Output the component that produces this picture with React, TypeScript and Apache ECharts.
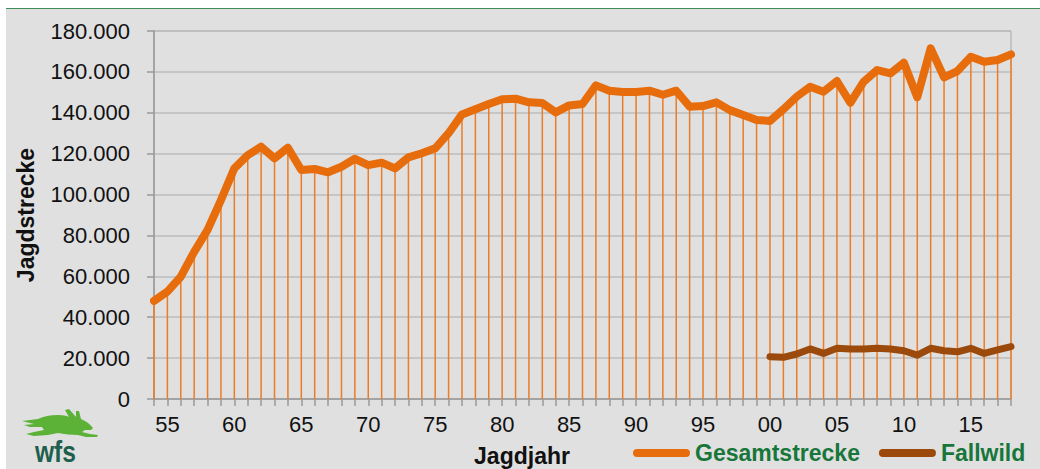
import React, { useEffect, useRef } from 'react';
import * as echarts from 'echarts';

const years = [
  '54', '55', '56', '57', '58', '59', '60', '61', '62', '63', '64', '65', '66', '67', '68', '69',
  '70', '71', '72', '73', '74', '75', '76', '77', '78', '79', '80', '81', '82', '83', '84', '85',
  '86', '87', '88', '89', '90', '91', '92', '93', '94', '95', '96', '97', '98', '99', '00', '01',
  '02', '03', '04', '05', '06', '07', '08', '09', '10', '11', '12', '13', '14', '15', '16', '17', '18',
];

const gesamtstrecke = [
  48000, 52500, 59800, 72000, 82700, 97300, 112800, 119300, 123400, 117700, 122900, 112000,
  112500, 110900, 113600, 117500, 114400, 115600, 112800, 118200, 120200, 122600, 130000,
  139200, 141700, 144300, 146600, 146900, 145100, 144800, 140200, 143600, 144300, 153400,
  150800, 150200, 150200, 150800, 148800, 150800, 143000, 143300, 145100, 141300, 138900,
  136500, 136000, 141700, 147900, 152700, 150300, 155500, 144900, 155200, 160900, 159300,
  164500, 147600, 171500, 157300, 160400, 167400, 165000, 165800, 168600,
];

const fallwildFirstYear = '00';
const fallwild = [
  20700, 20400, 22000, 24500, 22300, 24800, 24500, 24500, 24800, 24500, 23600, 21500, 24800,
  23600, 23100, 24800, 22300, 24000, 25600,
];

const yTicks = { min: 0, max: 180000, interval: 20000 };

const FONT = '"Liberation Sans", Arial, sans-serif';
const ORANGE = '#e66c0c';
const BROWN = '#9b4a0b';
const DROP = '#ec7c26';

const harePath =
  'M22,421 L38,419 C46,415 58,414 67,416 L69,417 L65,410 L69,409 L76,417 L76,411 L79,411 L81,419 ' +
  'C86,421 90,424 93,428 L91,430 L85,430 L82,432 L90,434 L98,435 L97,437 L86,437 L78,435 ' +
  'C72,435 64,434 58,433 L48,435 L34,436 L26,434 L34,432 L44,430 L42,427 L30,427 L24,425 L34,424 Z';

let registered = false;

export default function App() {
  const ref = useRef<HTMLDivElement>(null);

  useEffect(() => {
    if (!ref.current) return;
    if (!registered) {
      echarts.graphic.registerShape('hare', echarts.graphic.extendPath(harePath, {}) as any);
      registered = true;
    }
    const chart = echarts.init(ref.current, undefined, { renderer: 'svg' });
    const start = years.indexOf(fallwildFirstYear);
    const fallData = years.map((_, i) => (i >= start && i - start < fallwild.length ? fallwild[i - start] : null));
    const legendIcon = 'path://M4,0 L53,0 A4,4 0 0 1 53,8 L4,8 A4,4 0 0 1 4,0 Z';

    chart.setOption({
      animation: false,
      backgroundColor: 'transparent',
      textStyle: { fontFamily: FONT },
      grid: {
        left: 154,
        right: 29,
        top: 31,
        bottom: 70,
        show: true,
        borderColor: '#a8a8a8',
        borderWidth: 1,
        backgroundColor: 'transparent',
      },
      legend: {
        data: [
          { name: 'Gesamtstrecke', icon: legendIcon },
          { name: 'Fallwild', icon: legendIcon },
        ],
        left: 633,
        top: 441,
        padding: 0,
        itemWidth: 57,
        itemHeight: 9,
        itemGap: 19,
        textStyle: { color: '#17763a', fontWeight: 'bold', fontSize: 23, lineHeight: 24, fontFamily: FONT },
      },
      xAxis: {
        type: 'category',
        data: years,
        boundaryGap: false,
        axisLine: { lineStyle: { color: '#9a9a9a', width: 1.5 } },
        axisTick: { show: true, interval: 0, length: 7, lineStyle: { color: '#9a9a9a', width: 1.5 } },
        axisLabel: {
          interval: (i: number) => i % 5 === 1,
          color: '#111',
          fontSize: 22,
          margin: 14,
          fontFamily: FONT,
        },
        splitLine: { show: false },
      },
      yAxis: {
        type: 'value',
        min: yTicks.min,
        max: yTicks.max,
        interval: yTicks.interval,
        axisLine: { show: true, lineStyle: { color: '#9a9a9a', width: 1.5 } },
        axisTick: { show: true, length: 7, lineStyle: { color: '#9a9a9a', width: 1.5 } },
        axisLabel: {
          color: '#111',
          fontSize: 22,
          margin: 24,
          fontFamily: FONT,
          formatter: (v: number) => v.toLocaleString('de-DE'),
        },
        splitLine: { show: true, lineStyle: { color: '#bdbdbd', width: 1.5 } },
      },
      series: [
        {
          name: 'drop',
          type: 'bar',
          data: gesamtstrecke,
          barWidth: 1.5,
          itemStyle: { color: DROP },
          silent: true,
          z: 1,
        },
        {
          name: 'Gesamtstrecke',
          type: 'line',
          data: gesamtstrecke,
          color: ORANGE,
          symbol: 'none',
          lineStyle: { color: ORANGE, width: 8, cap: 'round', join: 'round' },
          z: 3,
        },
        {
          name: 'Fallwild',
          type: 'line',
          data: fallData,
          color: BROWN,
          symbol: 'none',
          connectNulls: false,
          lineStyle: { color: BROWN, width: 7, cap: 'round', join: 'round' },
          z: 4,
        },
      ],
      graphic: [
        {
          type: 'text',
          x: 522,
          y: 456,
          style: {
            text: 'Jagdjahr',
            fill: '#111',
            font: `bold 23px ${FONT}`,
            align: 'center',
            verticalAlign: 'middle',
          },
        },
        {
          type: 'text',
          x: 26,
          y: 215,
          rotation: Math.PI / 2,
          style: {
            text: 'Jagdstrecke',
            fill: '#111',
            font: `bold 23px ${FONT}`,
            align: 'center',
            verticalAlign: 'middle',
          },
        },
        {
          type: 'hare',
          x: 0,
          y: 0,
          style: { fill: '#5bb236' },
        },
        {
          type: 'text',
          x: 47,
          y: 452,
          scaleX: 0.82,
          originX: 47,
          originY: 452,
          style: {
            text: 'wfs',
            fill: '#1d5e4d',
            font: `bold 30px ${FONT}`,
            align: 'center',
            verticalAlign: 'middle',
          },
        },
      ],
    });
    return () => chart.dispose();
  }, []);

  return (
    <div style={{ position: 'fixed', left: 0, top: 0, width: 1040, height: 469, background: '#fff' }}>
      <div
        style={{
          position: 'absolute',
          left: 6,
          top: 8,
          width: 1034,
          height: 461,
          background: '#e0e0e0',
          borderTop: '1.5px solid #3f8f5c',
          boxSizing: 'border-box',
        }}
      />
      <div ref={ref} style={{ position: 'absolute', left: 0, top: 0, width: 1040, height: 469 }} />
    </div>
  );
}
